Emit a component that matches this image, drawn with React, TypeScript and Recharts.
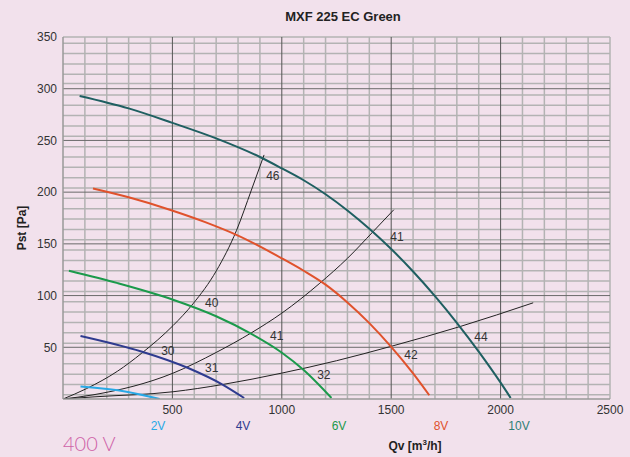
import { ComposedChart, Line, Scatter, XAxis, YAxis, ReferenceLine } from 'recharts'

const FONT = '"Liberation Sans", Arial, Helvetica, sans-serif'
const BG = '#f2e1ec'

// fan curves per control voltage, Qv [m3/h] vs Pst [Pa]
const fan2V = [
  { q: 80, p: 12 }, { q: 290, p: 7 }, { q: 442, p: 0 },
]
const fan4V = [
  { q: 80, p: 61 }, { q: 358, p: 46 }, { q: 572, p: 30 }, { q: 729, p: 14 }, { q: 828, p: 1 },
]
const fan6V = [
  { q: 27, p: 124 }, { q: 250, p: 112 }, { q: 503, p: 96 }, { q: 700, p: 80 }, { q: 861, p: 63 },
  { q: 999, p: 45 }, { q: 1100, p: 28 }, { q: 1227, p: 1 },
]
const fan8V = [
  { q: 137, p: 203.5 }, { q: 300, p: 195 }, { q: 488, p: 183 }, { q: 650, p: 171 }, { q: 800, p: 158 },
  { q: 1000, p: 136 }, { q: 1100, p: 124 }, { q: 1200, p: 110.6 }, { q: 1300, p: 93.4 }, { q: 1400, p: 73.4 },
  { q: 1500, p: 50.4 }, { q: 1600, p: 24.7 }, { q: 1674, p: 3.6 },
]
const fan10V = [
  { q: 76, p: 293 }, { q: 300, p: 281 }, { q: 500, p: 267 }, { q: 700, p: 252 }, { q: 900, p: 234 },
  { q: 1000, p: 223 }, { q: 1100, p: 211.5 }, { q: 1200, p: 198 }, { q: 1300, p: 182.3 }, { q: 1400, p: 164.6 },
  { q: 1500, p: 145 }, { q: 1600, p: 123.3 }, { q: 1700, p: 99.5 }, { q: 1800, p: 73.7 }, { q: 1900, p: 45.8 },
  { q: 2000, p: 15.8 }, { q: 2046, p: 1 },
]

// system curves
const sysA = [
  { q: 0, p: 0 }, { q: 107, p: 10 }, { q: 250, p: 27 }, { q: 358, p: 44 }, { q: 503, p: 71 },
  { q: 594, p: 92 }, { q: 701, p: 124 }, { q: 793, p: 163 }, { q: 861, p: 202 }, { q: 919, p: 236 },
]
const sysB = [
  { q: 0, p: 0 }, { q: 137, p: 4 }, { q: 503, p: 25 }, { q: 700, p: 45 }, { q: 861, p: 64 },
  { q: 1000, p: 83 }, { q: 1174, p: 112 }, { q: 1300, p: 136 }, { q: 1418, p: 162 }, { q: 1512, p: 183 },
]
const sysC = [
  { q: 0, p: 0 }, { q: 137, p: 2 }, { q: 503, p: 7 }, { q: 729, p: 14 }, { q: 999, p: 25 },
  { q: 1250, p: 37 }, { q: 1501, p: 51 }, { q: 1814, p: 70 }, { q: 2149, p: 93 },
]

// sound level labels
const noiseLabels = [
  { q: 959, p: 216, text: '46' },
  { q: 680, p: 93, text: '40' },
  { q: 479, p: 46, text: '30' },
  { q: 680, p: 30, text: '31' },
  { q: 977, p: 61, text: '41' },
  { q: 1192, p: 23, text: '32' },
  { q: 1526, p: 157, text: '41' },
  { q: 1590, p: 43, text: '42' },
  { q: 1910, p: 60, text: '44' },
]

const xTicks = [500, 1000, 1500, 2000, 2500]
const yTicks = [50, 100, 150, 200, 250, 300, 350]
const xMajor = [500, 1000, 1500, 2000]
const xMinor = [100, 200, 300, 400, 600, 700, 800, 900, 1100, 1200, 1300, 1400, 1600, 1700, 1800, 1900,
  2100, 2200, 2300, 2400, 2500]
const yMinor = [4, 14, 24, 34, 44, 54, 64, 74, 84, 94, 104, 114, 124, 134, 144, 154, 164, 174, 184, 194,
  204, 214, 224, 234, 244, 254, 264, 274, 284, 294, 305, 314, 324, 334, 344, 350]
const yMajor = [50, 100, 150, 200, 250, 300]

const voltageLabels = [
  { text: '2V', color: '#29a9e6', x: 158 },
  { text: '4V', color: '#2f3b8f', x: 243 },
  { text: '6V', color: '#1b9a4b', x: 339 },
  { text: '8V', color: '#e0522c', x: 441 },
  { text: '10V', color: '#2f7f76', x: 519 },
]

const fans = [
  { data: fan2V, color: '#29a9e6' },
  { data: fan4V, color: '#2f3b8f' },
  { data: fan6V, color: '#1b9a4b' },
  { data: fan8V, color: '#e0522c' },
  { data: fan10V, color: '#1f5f61' },
]

const LabelShape = (props: any) => (
  <text x={props.cx} y={props.cy} textAnchor="middle" dominantBaseline="central"
    fontSize={12} fontFamily={FONT} fill="#333">
    {props.payload.text}
  </text>
)

export default function App() {
  return (
    <div style={{ position: 'absolute', left: 0, top: 0, width: 630, height: 457, background: BG, fontFamily: FONT }}>
      <div style={{ position: 'absolute', left: 0, width: 630, top: 9, textAlign: 'center', paddingLeft: 56,
        boxSizing: 'border-box', fontSize: 13, fontWeight: 'bold', color: '#222' }}>
        MXF 225 EC Green
      </div>
      <ComposedChart width={630} height={457} margin={{ top: 37, right: 20, bottom: 28, left: 3 }}>
        <XAxis type="number" dataKey="q" domain={[0, 2500]} ticks={xTicks} allowDataOverflow
          tickLine={false} tickSize={0} tickMargin={6} height={30}
          axisLine={{ stroke: '#999', strokeWidth: 1.5 }}
          tick={{ fontSize: 12, fill: '#333', fontFamily: FONT }} />
        <YAxis type="number" dataKey="p" domain={[0, 350]} ticks={yTicks} allowDataOverflow
          tickLine={false} tickSize={0} tickMargin={6} width={60}
          axisLine={{ stroke: '#999', strokeWidth: 1.5 }}
          tick={{ fontSize: 12, fill: '#333', fontFamily: FONT }} />
        {yMinor.map((v) => (
          <ReferenceLine key={`ym-${v}`} y={v} stroke="#b3b3b3" strokeWidth={1.5} />
        ))}
        {xMinor.map((v) => (
          <ReferenceLine key={`xm-${v}`} x={v} stroke="#b3b3b3" strokeWidth={1.5} />
        ))}
        {yMajor.map((v) => (
          <ReferenceLine key={`yM-${v}`} y={v} stroke="#6a6a6a" strokeWidth={1} />
        ))}
        {xMajor.map((v) => (
          <ReferenceLine key={`xM-${v}`} x={v} stroke="#555" strokeWidth={1} />
        ))}
        {[sysA, sysB, sysC].map((d, i) => (
          <Line key={`sys-${i}`} data={d} dataKey="p" type="monotone" stroke="#222" strokeWidth={1}
            dot={false} isAnimationActive={false} />
        ))}
        {fans.map((f, i) => (
          <Line key={`fan-${i}`} data={f.data} dataKey="p" type="monotone" stroke={f.color} strokeWidth={2}
            dot={false} isAnimationActive={false} />
        ))}
        <Scatter data={noiseLabels} dataKey="p" shape={LabelShape} isAnimationActive={false} />
      </ComposedChart>
      {voltageLabels.map((v) => (
        <div key={v.text} style={{ position: 'absolute', left: v.x, top: 426, transform: 'translate(-50%, -50%)',
          fontSize: 12, color: v.color }}>
          {v.text}
        </div>
      ))}
      <div style={{ position: 'absolute', left: 415, top: 445, transform: 'translate(-50%, -50%)',
        fontSize: 12, fontWeight: 'bold', color: '#222', whiteSpace: 'nowrap' }}>
        Qv [m<sup style={{ fontSize: 8 }}>3</sup>/h]
      </div>
      <div style={{ position: 'absolute', left: 22, top: 228, transform: 'translate(-50%, -50%) rotate(-90deg)',
        fontSize: 12, fontWeight: 'bold', color: '#222', whiteSpace: 'nowrap' }}>
        Pst [Pa]
      </div>
      <div style={{ position: 'absolute', left: 63, top: 433, fontSize: 20, fontFamily: 'Lato, sans-serif',
        fontWeight: 300, color: '#cf62a8', lineHeight: 1 }}>
        400 V
      </div>
    </div>
  )
}
